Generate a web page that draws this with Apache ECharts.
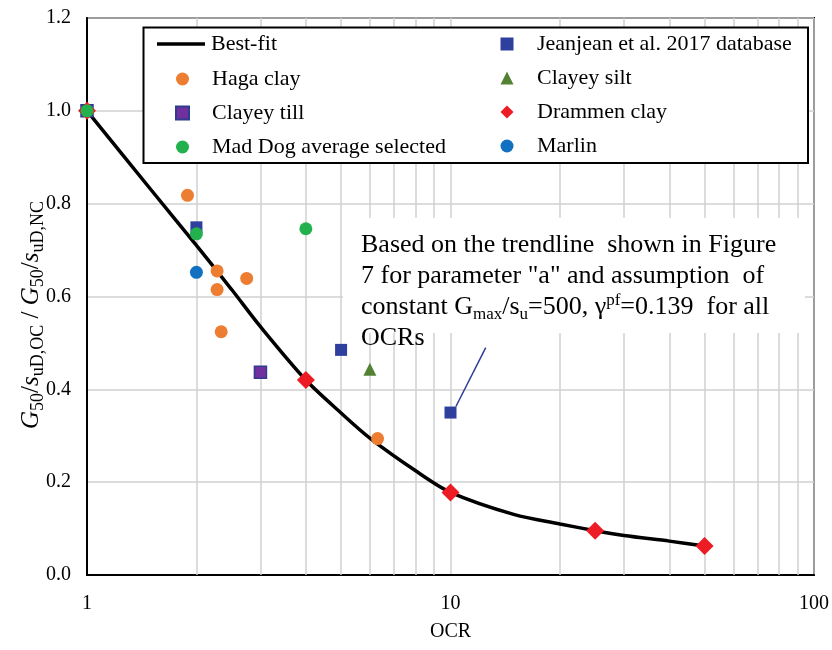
<!DOCTYPE html>
<html>
<head>
<meta charset="utf-8">
<script src="https://cdn.jsdelivr.net/npm/echarts@6/dist/echarts.min.js"></script>
<style>html,body{margin:0;padding:0;background:#fff}#c{width:832px;height:650px}</style>
</head>
<body>
<div id="c"></div>
<script>
// ---- data ----
const bestFitX = [1, 1.5, 2, 2.5, 3, 4, 5, 6, 8, 10, 15, 20, 25, 30, 40, 50];
const bestFitY = [1.0, 0.83, 0.71, 0.615, 0.535, 0.42, 0.349, 0.295, 0.225, 0.178, 0.13, 0.110, 0.0955, 0.085, 0.073, 0.0625];
const hagaX = [1.89, 2.28, 2.28, 2.75, 2.34, 6.3];
const hagaY = [0.818, 0.655, 0.615, 0.639, 0.524, 0.294];
const clayeyTillX = [1, 3];
const clayeyTillY = [1.0, 0.437];
const jeanjeanX = [1, 2, 5, 10];
const jeanjeanY = [1.0, 0.749, 0.485, 0.35];
const clayeySiltX = [6];
const clayeySiltY = [0.443];
const drammenX = [1, 4, 10, 25, 50];
const drammenY = [1.0, 0.42, 0.178, 0.0955, 0.0625];
const marlinX = [2];
const marlinY = [0.652];
const madDogX = [1, 2, 4];
const madDogY = [1.0, 0.735, 0.746];
const pointerX = [10.35, 12.5];
const pointerY = [0.363, 0.49];
const minorGridX = [2, 3, 4, 5, 6, 7, 8, 9, 20, 30, 40, 50, 60, 70, 80, 90];
const yTicks = [0, 0.2, 0.4, 0.6, 0.8, 1.0, 1.2];

const zip = (xs, ys) => xs.map((x, i) => [x, ys[i]]);
const FONT = 'Liberation Serif';

const chart = echarts.init(document.getElementById('c'));

const legendCommon = {
  orient: 'vertical', padding: 0, itemGap: 10, z: 200,
  textStyle: { fontFamily: FONT, fontSize: 22, color: '#000', lineHeight: 24 }
};

const option = {
  animation: false,
  backgroundColor: '#fff',
  grid: { left: 87, right: 18, top: 18, bottom: 75, show: true, borderColor: '#000', borderWidth: 2, backgroundColor: 'transparent' },
  xAxis: {
    type: 'log', logBase: 10, min: 1, max: 100,
    axisLine: { lineStyle: { color: '#000', width: 2 } },
    axisTick: { show: false },
    axisLabel: { fontFamily: FONT, fontSize: 20, color: '#000', margin: 19 },
    splitLine: { show: true, lineStyle: { color: '#d0d0d0', width: 1.5 } },
    name: 'OCR', nameLocation: 'middle', nameGap: 47,
    nameTextStyle: { fontFamily: FONT, fontSize: 20, color: '#000' }
  },
  yAxis: {
    type: 'value', min: yTicks[0], max: yTicks[yTicks.length - 1], interval: 0.2,
    axisLine: { show: true, lineStyle: { color: '#000', width: 2 } },
    axisTick: { show: false },
    axisLabel: { fontFamily: FONT, fontSize: 20, color: '#000', margin: 16, formatter: v => v.toFixed(1) },
    splitLine: { show: true, lineStyle: { color: '#d0d0d0', width: 1.5 } }
  },
  legend: [
    Object.assign({}, legendCommon, {
      data: [{ name: 'Best-fit', icon: 'path://M0,0H48V3.5H0Z' }], left: 157, top: 32, itemWidth: 48, itemHeight: 14,
      textStyle: Object.assign({}, legendCommon.textStyle, { padding: [0, 0, 0, 1] })
    }),
    Object.assign({}, legendCommon, {
      data: ['Haga clay', 'Clayey till', 'Mad Dog average selected'], left: 175, top: 67, itemWidth: 13, itemHeight: 13,
      textStyle: Object.assign({}, legendCommon.textStyle, { padding: [0, 0, 0, 18] })
    }),
    Object.assign({}, legendCommon, {
      data: ['Jeanjean et al. 2017 database', 'Clayey silt', 'Drammen clay', 'Marlin'], left: 500.5, top: 32, itemWidth: 13, itemHeight: 13,
      textStyle: Object.assign({}, legendCommon.textStyle, { padding: [0, 0, 0, 18.5] })
    })
  ],
  graphic: [
    { type: 'rect', z: 50, shape: { x: 143.5, y: 27.5, width: 664.5, height: 135.5 }, style: { fill: '#fff', stroke: '#000', lineWidth: 2 } },
    { type: 'rect', z: 50, shape: { x: 343, y: 218, width: 462, height: 115 }, style: { fill: '#fff' } },
    {
      type: 'text', z: 60, x: 361, y: 230,
      style: {
        text: 'Based on the trendline  shown in Figure\n7 for parameter "a" and assumption  of\nconstant G{sub|max}/s{sub|u}=500, γ{sup|pf}=0.139  for all\nOCRs',
        font: '26px "Liberation Serif"', fill: '#000', lineHeight: 31,
        rich: {
          sub: { font: '17px "Liberation Serif"', fill: '#000', lineHeight: 15, verticalAlign: 'bottom' },
          sup: { font: '17px "Liberation Serif"', fill: '#000', lineHeight: 15, verticalAlign: 'top' }
        }
      }
    },
    {
      type: 'text', z: 60, x: 31, y: 315, rotation: Math.PI / 2,
      style: {
        text: '{i|G}{sub|50}/{i|s}{sub|uD,OC} / {i|G}{sub|50}/{i|s}{sub|uD,NC}',
        font: '25px "Liberation Serif"', fill: '#000', align: 'center', verticalAlign: 'middle',
        rich: {
          i: { font: 'italic 25px "Liberation Serif"', fill: '#000', lineHeight: 32 },
          sub: { font: '18px "Liberation Serif"', fill: '#000', lineHeight: 18, verticalAlign: 'bottom' }
        }
      }
    }
  ],
  series: [
    {
      name: 'minorGrid', type: 'line', data: [], z: 1, silent: true,
      markLine: {
        silent: true, z: 1, symbol: ['none', 'none'], label: { show: false },
        lineStyle: { color: '#d0d0d0', width: 1.5, type: 'solid' },
        data: minorGridX.map(v => ({ xAxis: v }))
      }
    },
    {
      name: 'Best-fit', type: 'line', data: zip(bestFitX, bestFitY), smooth: 0.3, showSymbol: false, symbol: 'none',
      lineStyle: { color: '#000', width: 3.5 }, itemStyle: { color: '#000' }, z: 3
    },
    { name: 'pointer', type: 'line', data: zip(pointerX, pointerY), symbol: 'none', lineStyle: { color: '#2E3D98', width: 1.5 }, z: 3 },
    { name: 'Haga clay', type: 'scatter', symbol: 'circle', symbolSize: 13, data: zip(hagaX, hagaY), itemStyle: { color: '#ED7D31', opacity: 1 }, z: 4 },
    { name: 'Clayey till', type: 'scatter', symbol: 'rect', symbolSize: 12, data: zip(clayeyTillX, clayeyTillY), itemStyle: { color: '#7030A0', borderColor: '#2F3B8C', borderWidth: 1.5, opacity: 1 }, z: 4 },
    { name: 'Jeanjean et al. 2017 database', type: 'scatter', symbol: 'rect', symbolSize: 12, data: zip(jeanjeanX, jeanjeanY), itemStyle: { color: '#2E3F9E', opacity: 1 }, z: 4 },
    { name: 'Clayey silt', type: 'scatter', symbol: 'triangle', symbolSize: 13, data: zip(clayeySiltX, clayeySiltY), itemStyle: { color: '#548235', opacity: 1 }, z: 4 },
    { name: 'Drammen clay', type: 'scatter', symbol: 'diamond', symbolSize: 18, data: zip(drammenX, drammenY), itemStyle: { color: '#ED1C24', opacity: 1 }, z: 4 },
    { name: 'Marlin', type: 'scatter', symbol: 'circle', symbolSize: 13, data: zip(marlinX, marlinY), itemStyle: { color: '#1170C0', opacity: 1 }, z: 4 },
    { name: 'Mad Dog average selected', type: 'scatter', symbol: 'circle', symbolSize: 13, data: zip(madDogX, madDogY), itemStyle: { color: '#22B14C', opacity: 1 }, z: 4 }
  ]
};
chart.setOption(option);
</script>
</body>
</html>
